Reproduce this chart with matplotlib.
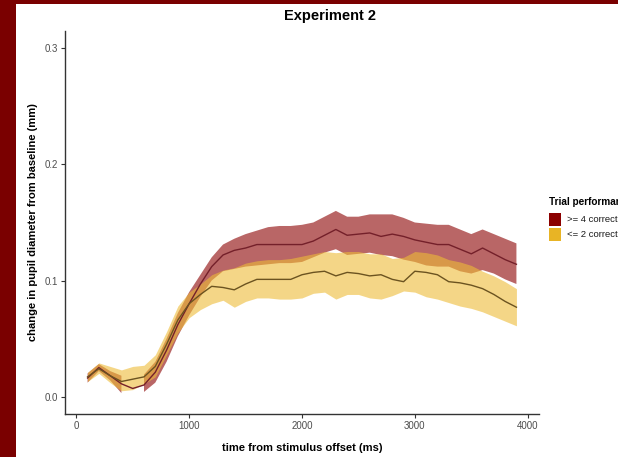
import numpy as np
import matplotlib
matplotlib.use("Agg")
import matplotlib.pyplot as plt
from matplotlib.patches import Rectangle

plt.rcParams['font.family'] = ['Liberation Sans', 'DejaVu Sans']

time_ms = np.arange(100, 4000, 100)
nan = np.nan

hi_mean = [0.016, 0.025, 0.018, 0.011, 0.007, 0.010, 0.021, 0.040, 0.062, 0.080,
           0.097, 0.112, 0.122, 0.126, 0.128, 0.131, 0.131, 0.131, 0.131, 0.131,
           0.134, 0.139, 0.144, 0.139, 0.140, 0.141, 0.138, 0.140, 0.138, 0.135,
           0.133, 0.131, 0.131, 0.127, 0.123, 0.128, 0.123, 0.118, 0.114]
hi_upper = [0.020, 0.028, 0.022, 0.018, nan, 0.019, 0.030, 0.050, 0.072, 0.090,
            0.105, 0.120, 0.131, 0.136, 0.140, 0.143, 0.146, 0.147, 0.147, 0.148,
            0.150, 0.155, 0.160, 0.155, 0.155, 0.157, 0.157, 0.157, 0.154, 0.150,
            0.149, 0.148, 0.148, 0.144, 0.140, 0.144, 0.140, 0.136, 0.132]
hi_lower = [0.012, 0.022, 0.014, 0.003, nan, 0.004, 0.012, 0.030, 0.052, 0.070,
            0.086, 0.100, 0.108, 0.110, 0.112, 0.113, 0.114, 0.115, 0.115, 0.116,
            0.120, 0.124, 0.127, 0.122, 0.123, 0.124, 0.122, 0.121, 0.118, 0.116,
            0.113, 0.112, 0.112, 0.108, 0.106, 0.109, 0.106, 0.101, 0.097]

lo_mean = [0.017, 0.024, 0.018, 0.013, 0.015, 0.017, 0.026, 0.045, 0.066, 0.080,
           0.088, 0.095, 0.094, 0.092, 0.097, 0.101, 0.101, 0.101, 0.101, 0.105,
           0.107, 0.108, 0.104, 0.107, 0.106, 0.104, 0.105, 0.101, 0.099, 0.108,
           0.107, 0.105, 0.099, 0.098, 0.096, 0.093, 0.088, 0.082, 0.077]
lo_upper = [0.021, 0.029, 0.026, 0.023, 0.026, 0.027, 0.036, 0.056, 0.078, 0.090,
            0.097, 0.105, 0.109, 0.111, 0.115, 0.117, 0.118, 0.118, 0.119, 0.121,
            0.123, 0.125, 0.124, 0.125, 0.125, 0.123, 0.123, 0.119, 0.120, 0.125,
            0.124, 0.122, 0.118, 0.116, 0.113, 0.108, 0.104, 0.099, 0.093]
lo_lower = [0.013, 0.020, 0.012, 0.005, 0.006, 0.011, 0.017, 0.036, 0.055, 0.068,
            0.075, 0.080, 0.083, 0.077, 0.082, 0.085, 0.085, 0.084, 0.084, 0.085,
            0.089, 0.090, 0.084, 0.088, 0.088, 0.085, 0.084, 0.087, 0.091, 0.090,
            0.086, 0.084, 0.081, 0.078, 0.076, 0.073, 0.069, 0.065, 0.061]

group_labels = [">= 4 correct", "<= 2 correct"]
key_colors = ["#8B0000", "#E8B425"]
fill_colors = ["#8B0000", "#EEBC37"]
line_colors = ["#74202a", "#6b5320"]
x_ticks = [0, 1000, 2000, 3000, 4000]
y_ticks = [0.0, 0.1, 0.2, 0.3]

fig = plt.figure(figsize=(6.18, 4.57), dpi=100)
fig.patch.set_facecolor("#7a0000")
bg = Rectangle((16 / 618, 0), 1, (457 - 4) / 457, transform=fig.transFigure,
               facecolor="white", edgecolor="none", zorder=-10)
fig.add_artist(bg)

ax = fig.add_axes([65 / 618, 43 / 457, (539 - 65) / 618, (414 - 31) / 457])
ax.set_zorder(1)
ax.set_facecolor("none")

ax.fill_between(time_ms, hi_lower, hi_upper, color=fill_colors[0], alpha=0.6,
                linewidth=0, zorder=1)
ax.fill_between(time_ms, lo_lower, lo_upper, color=fill_colors[1], alpha=0.6,
                linewidth=0, zorder=2)
ax.plot(time_ms, hi_mean, color=line_colors[0], linewidth=1.0, zorder=3)
ax.plot(time_ms, lo_mean, color=line_colors[1], linewidth=1.0, zorder=3)

ax.set_xlim(-100, 4100)
ax.set_ylim(-0.015, 0.315)
ax.set_xticks(x_ticks)
ax.set_yticks(y_ticks)
ax.set_xticklabels([str(v) for v in x_ticks])
ax.set_yticklabels([f"{v:.1f}" for v in y_ticks])
for s in ["top", "right"]:
    ax.spines[s].set_visible(False)
for s in ["left", "bottom"]:
    ax.spines[s].set_color("#333333")
    ax.spines[s].set_linewidth(1.0)
ax.tick_params(axis="both", colors="#333333", labelcolor="#4d4d4d",
               labelsize=7, length=3, width=0.8, pad=2)

ax.set_xlabel("time from stimulus offset (ms)", fontsize=8, fontweight="bold",
              labelpad=9)
ax.set_ylabel("change in pupil diameter from baseline (mm)", fontsize=8,
              fontweight="bold", labelpad=5)
fig.text(330 / 618, 1 - 16 / 457, "Experiment 2", ha="center", va="center",
         fontsize=10.5, fontweight="bold", zorder=5)

# legend (cropped at the figure's right edge, as in the reference)
fig.text(549 / 618, 1 - 202 / 457, "Trial performance", ha="left",
         va="center", fontsize=7.2, fontweight="bold", zorder=5)
for i, (lab, col) in enumerate(zip(group_labels, key_colors)):
    y0 = 213 + i * 15
    fig.add_artist(Rectangle((549 / 618, 1 - (y0 + 13) / 457), 12 / 618,
                             13 / 457, transform=fig.transFigure,
                             facecolor=col, edgecolor="none", zorder=5))
    fig.text(567 / 618, 1 - (y0 + 6.5) / 457, lab, ha="left", va="center",
             fontsize=6.8, color="#1a1a1a", zorder=5)

fig.savefig("out.png", dpi=100)
